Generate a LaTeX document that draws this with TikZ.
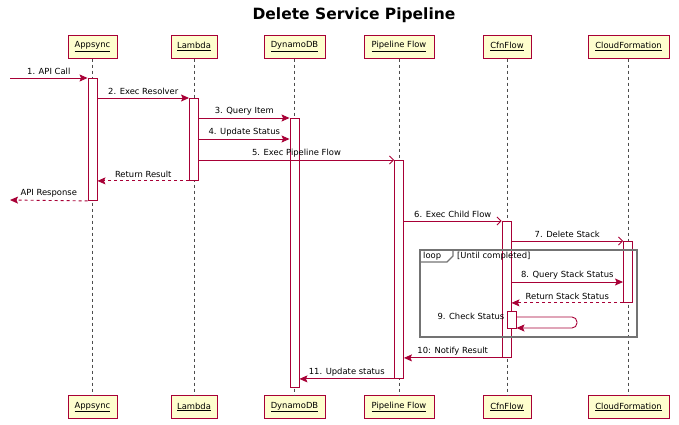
\documentclass[tikz,border=0pt]{standalone}
\usepackage{fontspec}
\setmainfont{DejaVu Sans}
\usepackage{xcolor}
\usetikzlibrary{arrows.meta,calc,positioning}
\definecolor{seqred}{HTML}{A80036}
\definecolor{seqfill}{HTML}{FEFECE}
\newcommand{\lblfont}{\fontsize{8.4}{10}\selectfont}
\tikzset{%
	actor/.style    = {draw=seqred, fill=seqfill, line width=1pt, minimum height=23pt, inner sep=0pt, font=\lblfont},
	active/.style   = {draw=seqred, fill=white, line width=0.9pt, minimum width=9pt, inner sep=0pt},
	lifeline/.style = {black!70, line width=0.8pt, dash pattern=on 3pt off 3pt},
	msg/.style      = {seqred, line width=0.9pt, -{Stealth[length=8pt,width=7pt,inset=1.5pt]}},
	ret/.style      = {msg, dash pattern=on 3pt off 3pt},
	async/.style    = {seqred, line width=0.9pt, -{Straight Barb[length=4pt,width=8pt]}},
	lbl/.style      = {above, inner sep=2.5pt, text=black, font=\lblfont},
	frame/.style    = {black!55, line width=1.2pt},
}
\newcommand{\act}[4]{\node[active, anchor=north, minimum height={#4-#3}] (#1) at (#2,#3) {};}

\begin{document}
\begin{tikzpicture}[x=1pt,y=-1pt]
	\useasboundingbox (0,0) rectangle (679,424);
	\node[font=\bfseries\fontsize{15.5}{18}\selectfont] (title) at (354,15) {Delete Service Pipeline};
	
	\foreach \n/\x/\w/\t in {A/92.5/49/Appsync, L/194/46/Lambda, D/294.5/61/DynamoDB, P/399/70/Pipeline Flow, C/507/48/CfnFlow, F/628.5/81/CloudFormation} {
		\node[actor, minimum width=\w pt] (p\n) at (\x,46.5) {\underline{\t}};
		\node[actor, minimum width=\w pt] (b\n) at (\x,407) {\underline{\t}};
		\draw[lifeline] (p\n) -- (b\n);
	}
	
	\act{aA}{92.5}{78}{200}
	\act{aL}{194}{98}{180}
	\act{aD}{294.5}{118}{387}
	\act{aP}{399}{160}{378}
	\act{aC}{506.5}{221}{357}
	\act{aF}{628}{241}{302}
	
	\draw[frame] (420,250) rectangle (637,337);
	\draw[frame] (420,262) -- (447,262) -- (453,256) -- (453,250);
	\node[anchor=west, inner sep=1pt, font=\lblfont] (loopT) at (422,256) {loop};
	\node[anchor=west, inner sep=1pt, font=\lblfont] (loopC) at (456,256) {[Until completed]};
	
	\act{aS}{511.5}{311}{328}
	
	\coordinate (inA) at (10,78);
	\coordinate (outA) at (10,200);
	\draw[msg] (inA) -- (aA.north west) node[lbl, midway] {1. API Call};
	\draw[msg] (aA.east |- 0,98) -- (aL.north west) node[lbl, midway] {2. Exec Resolver};
	\draw[msg] (aL.east |- 0,118) -- (aD.north west) node[lbl, midway] {3. Query Item};
	\draw[msg] (aL.east |- 0,139) -- (aD.west |- 0,139) node[lbl, midway] {4. Update Status};
	\draw[async] (aL.east |- 0,160) -- (aP.north west) node[lbl, midway] {5. Exec Pipeline Flow};
	\draw[ret] (aL.south west) -- (aA.east |- aL.south) node[lbl, midway] {Return Result};
	\draw[ret] (aA.south west) -- (outA) node[lbl, midway] {API Response};
	\draw[async] (aP.east |- 0,221) -- (aC.north west) node[lbl, midway] {6. Exec Child Flow};
	\draw[async] (aC.east |- 0,241) -- (aF.north west) node[lbl, midway] {7. Delete Stack};
	\draw[msg] (aC.east |- 0,282) -- (aF.west |- 0,282) node[lbl, midway] {8. Query Stack Status};
	\draw[ret] (aF.south west) -- (aC.east |- aF.south) node[lbl, midway] {Return Stack Status};
	\draw[msg, rounded corners=5pt] (aS.east |- 0,317) -- (577,317) -- (577,328) -- (aS.east |- 0,328);
	\node[anchor=east, inner sep=2pt, font=\lblfont] (chk) at (aS.west |- 0,316) {9. Check Status};
	\draw[msg] (aC.south west) -- (aP.east |- aC.south) node[lbl, midway] {10: Notify Result};
	\draw[msg] (aP.south west) -- (aD.east |- aP.south) node[lbl, midway] {11. Update status};
\end{tikzpicture}
\end{document}
